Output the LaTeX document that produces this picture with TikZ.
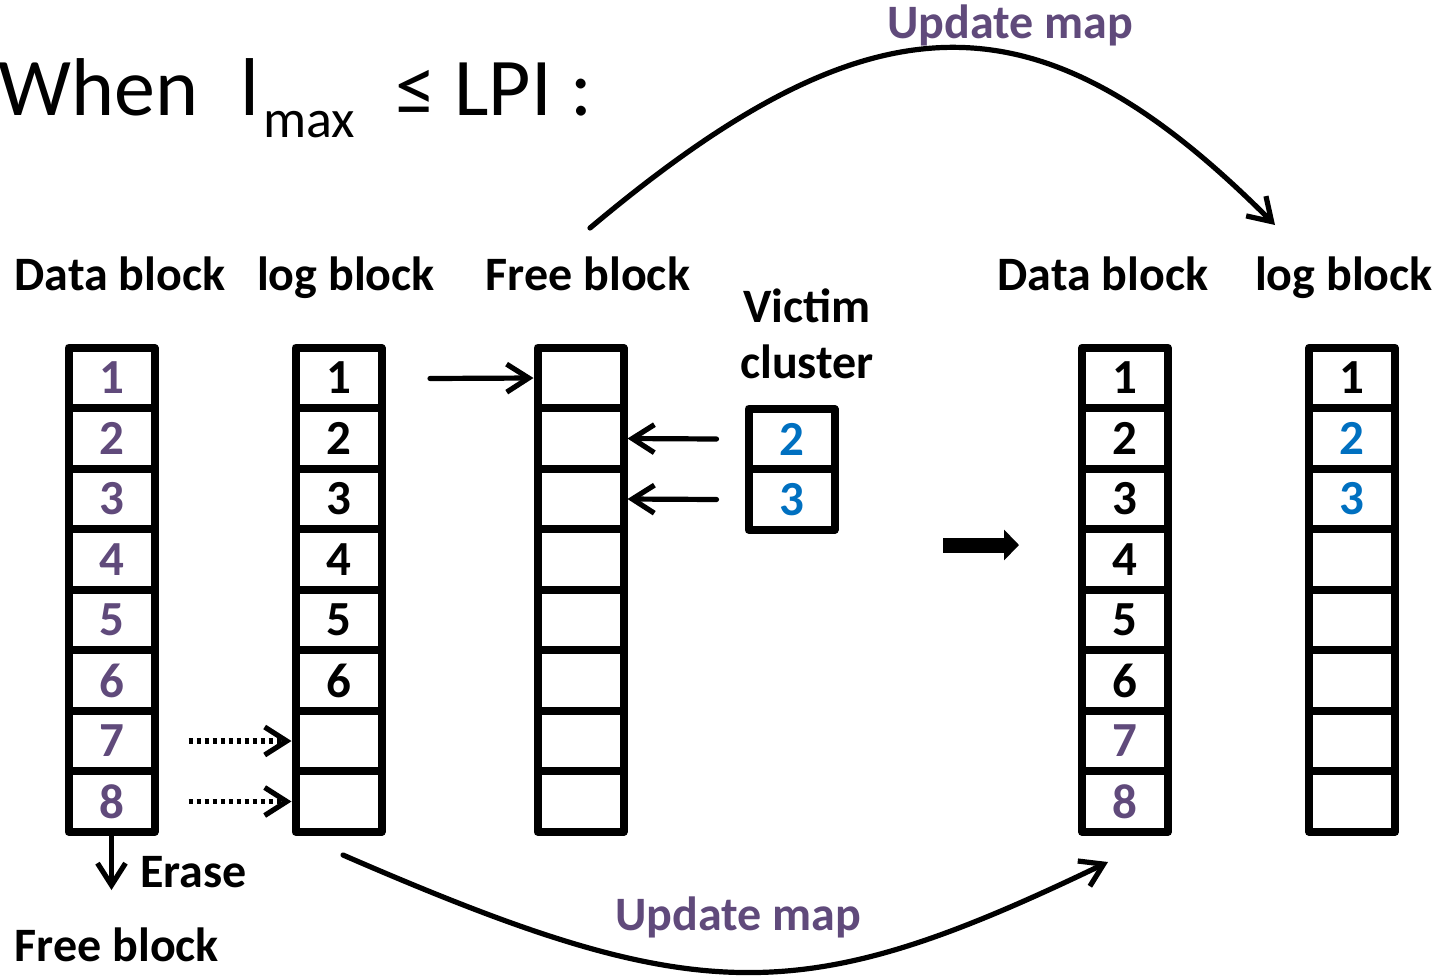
\documentclass[tikz,border=0pt]{standalone}
\usepackage{fontspec}
\setmainfont{Carlito}
\usetikzlibrary{arrows.meta}
\definecolor{mappurple}{RGB}{96,74,123}
\definecolor{victblue}{RGB}{0,112,192}
\begin{document}
\begin{tikzpicture}[x=0.5pt,y=-0.5pt,line join=round,line cap=round,
	cell/.style={draw,line width=4pt,minimum width=43pt,minimum height=30.25pt,inner sep=0pt,font=\fontsize{24.5}{28}\selectfont\bfseries},
	lbl/.style={font=\fontsize{24}{28}\selectfont\bfseries,anchor=base,inner sep=0pt},
	purp/.style={text=mappurple},
	blu/.style={text=victblue},
	ptr/.style={line width=2.6pt,-{Straight Barb[length=11pt,width=14pt]}}]
	\useasboundingbox (0,0) rectangle (1439,975);
	%%%%%%%%%%%%%%% title
	\node[anchor=base west,inner sep=0pt,font=\fontsize{41}{48}\selectfont] (ttl) at (-2,115)
	{When\hspace{21pt}l\hspace{2pt}\raisebox{-11pt}{\fontsize{27}{32}\selectfont max}\hspace{20pt}≤ LPI :};
	%%%%%%%%%%%%%%% headings
	\node[lbl] (hdata) at (120,290) {Data block};
	\node[lbl] (hlog) at (346,290) {log block};
	\node[lbl] (hfree) at (588,290) {Free block};
	\node[lbl,align=center] (hvic) at (807,378) {Victim\\cluster};
	\node[lbl] (hdata2) at (1103,290) {Data block};
	\node[lbl] (hlog2) at (1344,290) {log block};
	%%%%%%%%%%%%%%% left blocks
	\foreach \i in {1,...,8}{
		\node[cell,purp] (d\i) at (111.5,{317.5+60.5*\i}) {\i};
		\node[cell] (f\i) at (580.5,{317.5+60.5*\i}) {};
	}
	\foreach \i in {1,...,6}
		\node[cell] (l\i) at (338.5,{317.5+60.5*\i}) {\i};
	\foreach \i in {7,8}
		\node[cell] (l\i) at (338.5,{317.5+60.5*\i}) {};
	\node[cell,blu] (v2) at (791.5,439) {2};
	\node[cell,blu] (v3) at (791.5,499.5) {3};
	%%%%%%%%%%%%%%% right blocks
	\foreach \i in {1,...,6}
		\node[cell] (rd\i) at (1125,{317.5+60.5*\i}) {\i};
	\foreach \i in {7,8}
		\node[cell,purp] (rd\i) at (1125,{317.5+60.5*\i}) {\i};
	\node[cell] (rl1) at (1352,378) {1};
	\foreach \i in {2,3}
		\node[cell,blu] (rl\i) at (1352,{317.5+60.5*\i}) {\i};
	\foreach \i in {4,...,8}
		\node[cell] (rl\i) at (1352,{317.5+60.5*\i}) {};
	%%%%%%%%%%%%%%% arrows
	\coordinate (fin) at (430,378.5);
	\draw[ptr] (fin) -- (f1.west);
	\draw[ptr] ([xshift=-14pt]v2.west) -- (f2.east);
	\draw[ptr] ([xshift=-14pt]v3.west) -- (f3.east);
	\draw[ptr,line cap=butt,dash pattern=on 2pt off 2pt] ([xshift=15pt]d7.east) -- (l7.west);
	\draw[ptr,line cap=butt,dash pattern=on 2pt off 2pt] ([xshift=15pt]d8.east) -- (l8.west);
	\coordinate (era) at (111.5,890);
	\draw[ptr] (d8.south) -- (era);
	\node[lbl,anchor=west] (erase) at (140,872) {Erase};
	\node[lbl] (hfree2) at (117,961) {Free block};
	\coordinate (ba) at (943,545);
	\coordinate (bb) at (1019,545);
	\draw[line width=7.5pt,line cap=butt,-{Triangle[length=7.5pt,width=15pt]}] (ba) -- (bb);
	%%%%%%%%%%%%%%% update map
	\coordinate (tu0) at (590,228);
	\coordinate (tu1) at (1275,225);
	\draw[ptr] (tu0) .. controls (875,-11.5) and (1039,-11.5) .. (tu1);
	\node[lbl,purp] (umap1) at (1010,38) {Update map};
	\coordinate (bu0) at (343,855);
	\coordinate (bu1) at (1108,862);
	\draw[ptr] (bu0) .. controls (700,1010) and (800,1010) .. (bu1);
	\node[lbl,purp] (umap2) at (738,930) {Update map};
\end{tikzpicture}
\end{document}
